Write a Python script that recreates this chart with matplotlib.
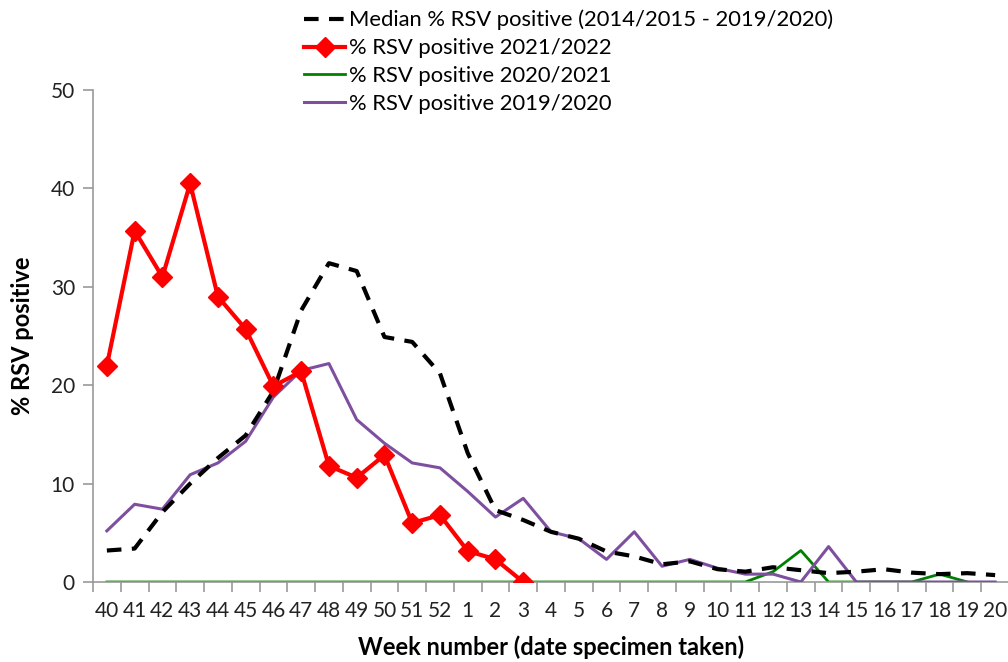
import matplotlib
matplotlib.use("Agg")
import matplotlib.pyplot as plt
import numpy as np

plt.rcParams["font.family"] = ["Lato", "DejaVu Sans"]

weeks = [str(w) for w in range(40, 53)] + [str(w) for w in range(1, 21)]

median_1415_1920 = [3.2, 3.4, 7.1, 10.0, 12.6, 14.9, 19.4, 27.6, 32.4, 31.6, 24.9, 24.4, 21.2,
                    13.1, 7.3, 6.3, 5.1, 4.4, 3.1, 2.6, 1.8, 2.1, 1.3, 1.05, 1.5, 1.2, 0.9,
                    1.05, 1.3, 0.95, 0.8, 0.9, 0.7]
rsv_2122 = [22.0, 35.7, 31.0, 40.5, 29.0, 25.7, 19.9, 21.4, 11.8, 10.6, 12.9, 6.0, 6.8,
            3.15, 2.3, 0.0]
rsv_2021 = [0.0] * 24 + [1.05, 3.2, 0.0, 0.0, 0.0, 0.0, 0.8, 0.0]
rsv_1920 = [5.2, 7.9, 7.4, 10.9, 12.1, 14.3, 18.8, 21.5, 22.2, 16.5, 14.1, 12.1, 11.6,
            9.2, 6.6, 8.5, 5.1, 4.4, 2.3, 5.1, 1.6, 2.3, 1.4, 0.8, 0.8, 0.0, 3.6,
            0.0, 0.0, 0.0, 0.0, 0.0, 0.0]

x = np.arange(len(weeks))

fig = plt.figure(figsize=(10.08, 6.62), dpi=100)
ax = fig.add_axes([93 / 1008, 1 - 582 / 662, 916 / 1008, 492 / 662])

ax.plot(x[:len(rsv_2021)], rsv_2021, color="#008000", lw=2, label="% RSV positive 2020/2021", zorder=2)
ax.plot(x, rsv_1920, color="#7f4f9f", lw=2.2, label="% RSV positive 2019/2020", zorder=3)
ax.plot(x, median_1415_1920, color="black", lw=3, ls=(0, (3.5, 2.5)),
        label="Median % RSV positive (2014/2015 - 2019/2020)", zorder=4)
ax.plot(x[:len(rsv_2122)], rsv_2122, color="#ff0000", lw=3, marker="D", ms=10,
        label="% RSV positive 2021/2022", zorder=5)

ax.set_xlim(-0.5, len(weeks) - 0.5)
ax.set_ylim(0, 50)
ax.set_yticks(range(0, 51, 10))
ax.set_xticks(x)
ax.set_xticklabels(weeks)
ax.set_xticks(np.arange(-0.5, len(weeks), 1), minor=True)
ax.tick_params(axis="x", which="major", length=0, labelsize=15, pad=14, colors="#222222")
ax.tick_params(axis="x", which="minor", length=7, color="#999999", width=1.2)
ax.tick_params(axis="y", length=7, width=1.2, labelsize=15, pad=6, colors="#222222")
ax.tick_params(axis="y", color="#999999")
for s in ("top", "right"):
    ax.spines[s].set_visible(False)
for s in ("left", "bottom"):
    ax.spines[s].set_color("#999999")
    ax.spines[s].set_linewidth(1.2)

ax.set_xlabel("Week number (date specimen taken)", fontsize=17, fontweight="bold", labelpad=10)
ax.set_ylabel("% RSV positive", fontsize=17, fontweight="bold", labelpad=12)

handles, labels = ax.get_legend_handles_labels()
order = [2, 3, 0, 1]
fig.legend([handles[i] for i in order], [labels[i] for i in order],
           loc="upper left", bbox_to_anchor=(295 / 1008, 1 - 1 / 662), frameon=False,
           fontsize=15.8, handlelength=1.9, handletextpad=0.15, labelspacing=0.36,
           borderaxespad=0)

fig.savefig("out.png", dpi=100)
